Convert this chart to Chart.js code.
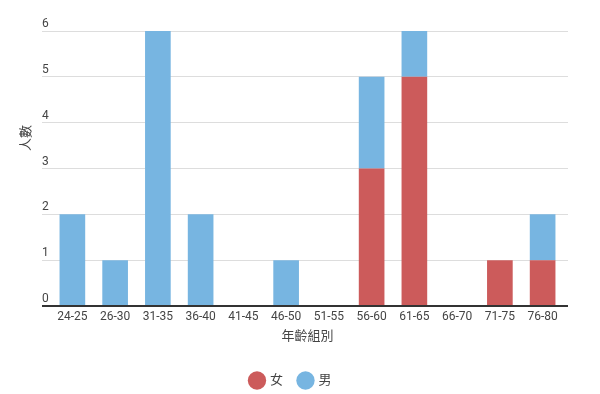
<!DOCTYPE html>
<html>
<head>
<meta charset="utf-8">
<script src="https://cdn.jsdelivr.net/npm/chart.js@4"></script>
<style>
  html, body { margin: 0; padding: 0; background: #fff; }
  #wrap { width: 600px; height: 394px; }
</style>
</head>
<body>
<div id="wrap"><canvas id="myChart" width="600" height="394"></canvas></div>
<script>
// 年齡組別
var labels = ['24-25', '26-30', '31-35', '36-40', '41-45', '46-50', '51-55', '56-60', '61-65', '66-70', '71-75', '76-80'];
var nu = [0, 0, 0, 0, 0, 0, 0, 3, 5, 0, 1, 1];   // 女
var nan = [2, 1, 6, 2, 0, 1, 0, 2, 1, 0, 0, 1];  // 男
var yTicks = [0, 1, 2, 3, 4, 5, 6];

var fontFam = 'Roboto, "Noto Sans CJK TC", sans-serif';
var textCol = '#444';

// y title drawn by hand so it sits where the original has it
const yTitle = {
    id: 'yTitle',
    afterDraw(chart) {
        var ctx = chart.ctx;
        ctx.save();
        ctx.translate(27, 138);
        ctx.rotate(-Math.PI / 2);
        ctx.fillStyle = textCol;
        ctx.font = '13px ' + fontFam;
        ctx.textAlign = 'center';
        ctx.textBaseline = 'middle';
        ctx.fillText('人數', 0, 0);
        ctx.restore();
    }
};

// bars sit a bit inside the gridlines, like the original
const xInset = {
    id: 'xInset',
    afterLayout(chart) {
        var s = chart.scales.x;
        s.left += 9;
        s.right -= 4;
        s.width = s.right - s.left;
        s.configure();
    }
};

const data = {
    labels: labels,
    datasets: [{
        label: '女',
        backgroundColor: '#cc5b5b',
        data: nu,
    }, {
        label: '男',
        backgroundColor: '#77b5e1',
        data: nan,
    }]
};

const config = {
    type: 'bar',
    data: data,
    options: {
        responsive: false,
        animation: false,
        layout: { padding: { left: 14, right: 32, top: 31, bottom: -3 } },
        datasets: { bar: { barPercentage: 0.6, categoryPercentage: 1.0 } },
        plugins: {
            tooltip: { enabled: false },
            legend: {
                position: 'bottom',
                labels: {
                    usePointStyle: true,
                    pointStyle: 'circle',
                    boxWidth: 16,
                    boxHeight: 16,
                    padding: 16,
                    color: textCol,
                    font: { family: fontFam, size: 13 }
                }
            }
        },
        scales: {
            x: {
                stacked: true,
                grid: { display: false },
                border: { display: false },
                ticks: { color: textCol, font: { family: fontFam, size: 12 }, padding: -4, maxRotation: 0 },
                title: { display: true, text: '年齡組別', color: textCol, font: { family: fontFam, size: 13 }, padding: { top: 9, bottom: 13 } }
            },
            y: {
                stacked: true,
                min: 0,
                max: 6,
                afterFit(scale) { scale.width = 28; },
                afterBuildTicks(scale) { scale.ticks = yTicks.map(v => ({ value: v })); },
                grid: {
                    color: (c) => c.tick && c.tick.value === 0 ? '#333' : '#dddddd',
                    lineWidth: (c) => c.tick && c.tick.value === 0 ? 2 : 1,
                    drawTicks: false
                },
                border: { display: false },
                ticks: {
                    mirror: true,
                    padding: 0,
                    labelOffset: -7,
                    color: textCol,
                    font: { family: fontFam, size: 12 }
                }
            }
        }
    },
    plugins: [yTitle, xInset]
};

const myChart = new Chart(document.getElementById('myChart'), config);
</script>
</body>
</html>
